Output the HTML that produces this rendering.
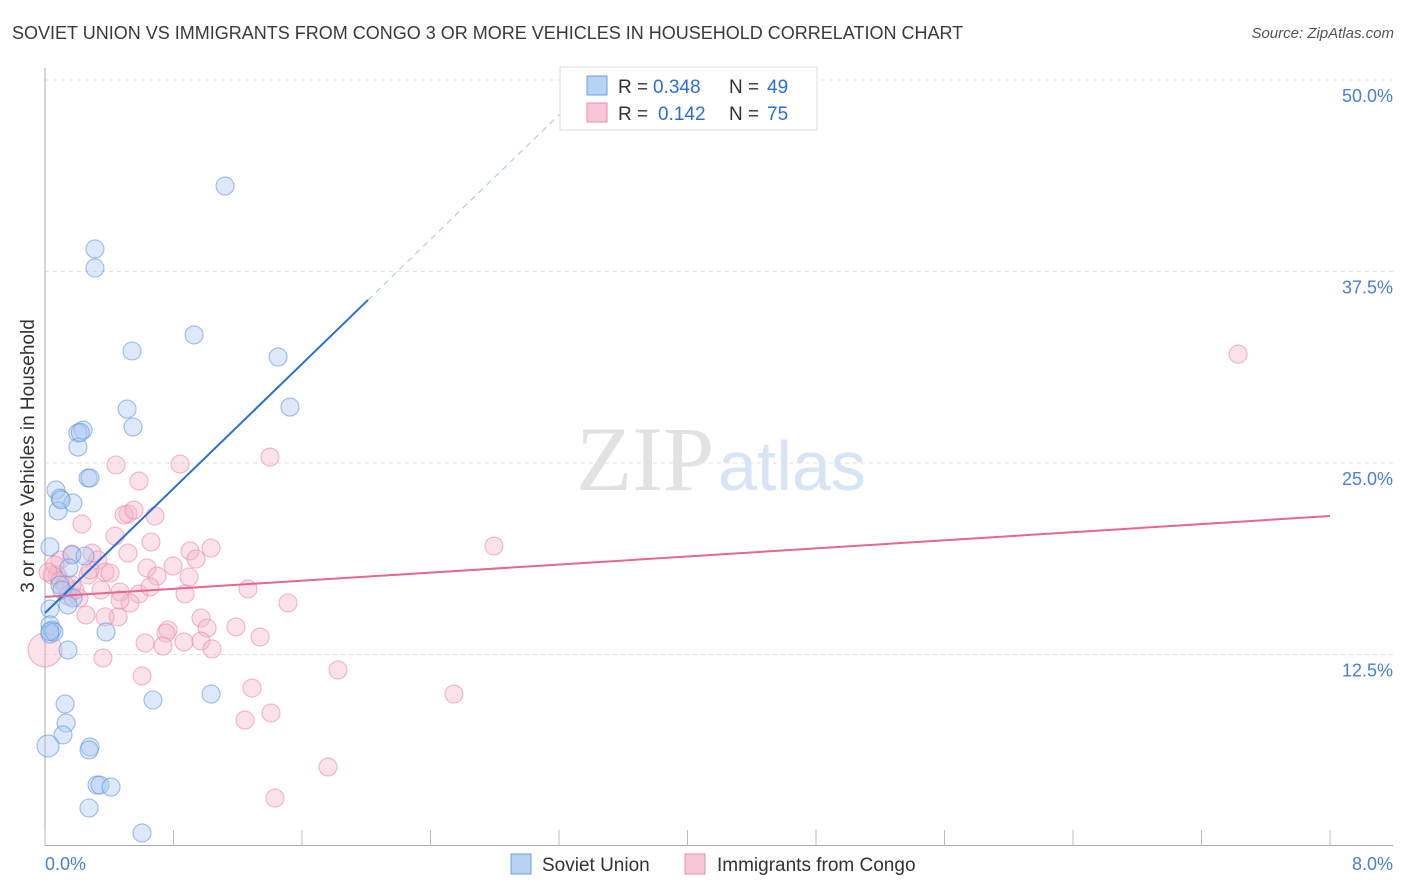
<!DOCTYPE html>
<html><head><meta charset="utf-8"><style>
body{margin:0;background:#fff;font-family:"Liberation Sans",sans-serif}
#wrap{position:relative;width:1406px;height:892px;overflow:hidden}
.t{position:absolute;white-space:nowrap}
</style></head><body>
<div id="wrap">
<div class="t" style="left:12px;top:23px;font-size:18px;color:#3a3a3a">SOVIET UNION VS IMMIGRANTS FROM CONGO 3 OR MORE VEHICLES IN HOUSEHOLD CORRELATION CHART</div>
<div class="t" style="right:12px;top:25px;font-size:15px;color:#555;font-style:italic">Source: ZipAtlas.com</div>
<svg id="svg" width="1406" height="892" style="position:absolute;left:0;top:0"></svg>
</div>
<script>
const blueX=[1.121,0.311,0.311,0.928,0.542,1.451,1.525,0.511,0.548,0.237,0.205,0.205,0.268,0.280,0.068,0.093,0.081,0.174,0.031,0.168,0.249,0.149,0.093,0.106,0.174,0.143,0.031,0.031,0.044,0.031,0.056,0.380,0.143,1.034,0.672,0.125,0.131,0.112,0.280,0.274,0.324,0.342,0.411,0.274,0.604,0.22,0.1,0.03,0.019];
const blueY=[43.08,38.97,37.73,33.36,32.31,31.92,28.65,28.52,27.35,27.15,26.96,26.04,24.02,24.02,23.24,22.71,21.87,22.39,19.52,18.99,18.93,18.15,17.04,16.71,16.19,15.73,15.47,14.43,14.10,13.84,13.97,13.97,12.79,9.92,9.53,9.27,8.03,7.25,6.46,6.27,3.98,3.98,3.85,2.48,0.85,27.0,22.6,14.0,6.53];
const pinkX=[7.428,1.401,0.841,0.442,0.585,0.517,0.492,0.554,0.685,0.230,0.436,0.660,1.034,0.093,0.168,0.293,0.517,0.903,0.635,0.797,0.940,0.330,0.374,0.405,0.075,0.044,0.268,0.697,0.897,0.168,0.349,0.467,0.585,1.264,0.654,0.872,0.212,0.143,0.529,1.513,0.255,0.455,0.374,0.971,0.766,0.753,1.009,1.189,1.339,0.623,0.735,0.865,0.971,1.040,0.361,0.604,1.824,1.289,2.546,1.245,1.407,1.762,1.432,2.795,0.467,0.0,0.093,0.062,0.187,0.280,0.125,0.019];
const pinkY=[32.11,25.39,24.93,24.87,23.82,21.67,21.61,21.93,21.54,21.02,20.23,19.84,19.45,18.67,19.06,19.12,19.12,19.26,18.15,18.28,18.73,18.67,17.88,17.82,17.69,17.69,17.69,17.62,17.56,17.04,16.71,16.58,16.45,16.78,16.91,16.45,16.19,16.32,15.86,15.86,15.08,14.95,14.95,14.88,14.10,13.90,14.23,14.30,13.64,13.25,13.05,13.32,13.38,12.86,12.27,11.10,11.49,10.31,9.92,8.22,8.68,5.16,3.13,19.58,16.06,12.8,17.36,18.34,16.71,18.02,17.04,17.88];
const blueLine=[15.21,10.16]; // intercept, slope
const pinkLine=[16.26,0.66];
const yTicks=[12.5,25,37.5,50];
const yTickLabels=["12.5%","25.0%","37.5%","50.0%"];
const xTicks=[0,0.8,1.6,2.4,3.2,4,4.8,5.6,6.4,7.2,8];

const X=v=>45+v/8*1285;
const Y=v=>846-v/12.5*191.5;
const S=document.getElementById('svg');
const NS='http://www.w3.org/2000/svg';
function mk(t,a,p){const e=document.createElementNS(NS,t);for(const k in a)e.setAttribute(k,a[k]);(p||S).appendChild(e);return e;}

let e;
e=mk('text',{x:714,y:490,'font-size':92,'text-anchor':'end',fill:'#e2e2e2','font-family':'Liberation Serif, serif'});e.textContent='ZIP';


e=mk('text',{x:718,y:490,'font-size':70,fill:'#d6e4f5','font-family':'Liberation Sans, sans-serif'});e.textContent='atlas';



yTicks.forEach((v,i)=>{
 e=mk('line',{x1:45,x2:1393,y1:Y(v),y2:Y(v),stroke:'#e0e0e0','stroke-dasharray':'4,4'});
 
 
 e=mk('text',{x:1393,y:Y(v)+22,'text-anchor':'end','font-size':18,fill:'#4a7fd6'});e.textContent=yTickLabels[i];
 
 
});
mk('line',{x1:45,x2:45,y1:68,y2:846,stroke:'#aaa'});
mk('line',{x1:45,x2:1393,y1:845.5,y2:845.5,stroke:'#aaa'});
xTicks.forEach(v=>{e=mk('line',{x1:X(v),x2:X(v),y1:830,y2:846,stroke:'#bbb'});
 
 });

function pts(xs,ys,fill,stroke,name,bigIdx,bigR){xs.forEach((x,i)=>{
 e=mk('circle',{cx:X(x),cy:Y(ys[i]),r:i===bigIdx?bigR:9,fill:fill,'fill-opacity':0.4,stroke:stroke,'stroke-width':1.1,'stroke-opacity':0.6});
 
 });}
pts(pinkX,pinkY,'#f6b3c8','#e88aa8','congo-point',65,17);
pts(blueX,blueY,'#a9c9f2','#5f95dc','blue-point',48,11);

e=mk('line',{x1:X(0),y1:Y(blueLine[0]),x2:X(2.011),y2:Y(blueLine[0]+blueLine[1]*2.011),stroke:'#2a6fd6','stroke-width':2});


e=mk('line',{x1:X(2.011),y1:Y(blueLine[0]+blueLine[1]*2.011),x2:X(3.4),y2:Y(blueLine[0]+blueLine[1]*3.4),stroke:'#b5cbea','stroke-width':1.2,'stroke-dasharray':'6,5'});


e=mk('line',{x1:X(0),y1:Y(pinkLine[0]),x2:X(8),y2:Y(pinkLine[0]+pinkLine[1]*8),stroke:'#e8668f','stroke-width':2});



e=mk('text',{x:34,y:456,'font-size':19,fill:'#333','text-anchor':'middle',transform:'rotate(-90 34 456)'});e.textContent='3 or more Vehicles in Household';


e=mk('text',{x:45,y:870,'font-size':18,fill:'#4a7fd6'});e.textContent='0.0%';


e=mk('text',{x:1393,y:870,'font-size':18,fill:'#4a7fd6','text-anchor':'end'});e.textContent='8.0%';



const lg=mk('g',{});


mk('rect',{x:560,y:67,width:257,height:63,fill:'#fff',stroke:'#ddd'},lg);
mk('rect',{x:587,y:76,width:20,height:19,fill:'#b6d2f5',stroke:'#6a9fe0'},lg);
mk('rect',{x:587,y:103,width:20,height:19,fill:'#f9c6d6',stroke:'#e890aa'},lg);
[['R = ','0.348','49',93,653],['R = ','0.142','75',120,658]].forEach(r=>{
 let t=mk('text',{x:618,y:r[3],'font-size':19,fill:'#333'},lg);t.textContent=r[0];
 t=mk('text',{x:r[4],y:r[3],'font-size':19,fill:'#2a6fd6'},lg);t.textContent=r[1];
 t=mk('text',{x:729,y:r[3],'font-size':19,fill:'#333'},lg);t.textContent='N = ';
 t=mk('text',{x:767,y:r[3],'font-size':19,fill:'#2a6fd6'},lg);t.textContent=r[2];
});
e=mk('rect',{x:511,y:854,width:20,height:20,fill:'#b6d2f5',stroke:'#6a9fe0'});


e=mk('text',{x:542,y:871,'font-size':19,fill:'#333'});e.textContent='Soviet Union';


e=mk('rect',{x:685,y:854,width:20,height:20,fill:'#f9c6d6',stroke:'#e890aa'});


e=mk('text',{x:717,y:871,'font-size':19,fill:'#333'});e.textContent='Immigrants from Congo';


</script>
</body></html>
